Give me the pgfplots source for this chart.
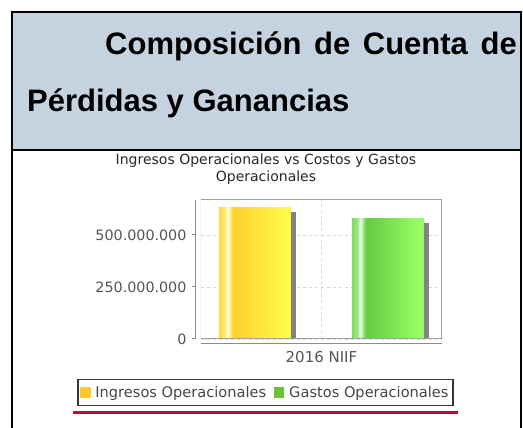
\documentclass[border=0pt]{standalone}
\usepackage{pgfplots}
\pgfplotsset{compat=1.18}
\usepackage{fontspec}
\setmainfont{DejaVu Sans}
\newfontfamily\libsans{Liberation Sans}
\definecolor{hdr}{RGB}{197,211,224}
\definecolor{redline}{RGB}{179,15,53}
\definecolor{axgray}{RGB}{140,140,140}
\definecolor{framegray}{RGB}{160,160,160}
\definecolor{gridgray}{RGB}{215,215,215}
\definecolor{tickgray}{RGB}{85,85,85}
\definecolor{titlegray}{RGB}{40,40,40}
\definecolor{legdraw}{RGB}{55,55,55}
\definecolor{legtext}{RGB}{70,70,70}
\definecolor{shadowgray}{RGB}{130,130,130}
\definecolor{ylegend}{RGB}{255,200,46}
\definecolor{glegend}{RGB}{102,195,58}
% yellow bar stops
\definecolor{y0}{RGB}{255,220,69}
\definecolor{y1}{RGB}{255,232,110}
\definecolor{y2}{RGB}{255,251,230}
\definecolor{y3}{RGB}{255,238,150}
\definecolor{y4}{RGB}{255,213,53}
\definecolor{y5}{RGB}{255,208,48}
\definecolor{y6}{RGB}{255,252,72}
\definecolor{y7}{RGB}{255,245,64}
% green bar stops
\definecolor{g0}{RGB}{126,219,94}
\definecolor{g1}{RGB}{154,232,137}
\definecolor{g2}{RGB}{240,252,235}
\definecolor{g3}{RGB}{165,235,138}
\definecolor{g4}{RGB}{106,207,74}
\definecolor{g5}{RGB}{102,204,68}
\definecolor{g6}{RGB}{153,255,102}
\definecolor{g7}{RGB}{145,245,96}
\pgfdeclarehorizontalshading{yshade}{100bp}{color(0bp)=(y0); color(25bp)=(y0); color(29bp)=(y1); color(30.5bp)=(y2); color(32.5bp)=(y3); color(34.5bp)=(y4); color(36bp)=(y5); color(72.5bp)=(y6); color(75bp)=(y7); color(100bp)=(y7)}
\pgfdeclarehorizontalshading{gshade}{100bp}{color(0bp)=(g0); color(25bp)=(g0); color(29bp)=(g1); color(30.5bp)=(g2); color(32.5bp)=(g3); color(34.5bp)=(g4); color(36bp)=(g5); color(72.5bp)=(g6); color(75bp)=(g7); color(100bp)=(g7)}
\begin{document}
\begin{tikzpicture}
\useasboundingbox[fill=white] (0pt,0pt) rectangle (523pt,428pt);
% header
\fill[hdr] (12.3pt,277.5pt) rectangle (520.5pt,415.7pt);
\begin{scope}
\clip (12.3pt,277.5pt) rectangle (520.5pt,415.7pt);
\node[anchor=base west, inner sep=0pt, font=\libsans\bfseries\fontsize{31}{37}\selectfont] at (105pt,373pt) {Composición\hspace{12.6pt}de\hspace{12.6pt}Cuenta\hspace{12.6pt}de};
\node[anchor=base west, inner sep=0pt, font=\libsans\bfseries\fontsize{31}{37}\selectfont] at (27pt,316pt) {Pérdidas y Ganancias};
\end{scope}
\draw[black, line width=2pt] (12.3pt,-2pt) -- (12.3pt,415.7pt) -- (520.5pt,415.7pt) -- (520.5pt,-2pt);
\draw[black, line width=2pt] (12.3pt,277.5pt) -- (520.5pt,277.5pt);
% chart title
\node[anchor=base, inner sep=0pt, font=\fontsize{14}{17}\selectfont, text=titlegray] at (266pt,263pt) {Ingresos Operacionales vs Costos y Gastos};
\node[anchor=base, inner sep=0pt, font=\fontsize{14}{17}\selectfont, text=titlegray] at (266pt,246pt) {Operacionales};
\begin{axis}[
  at={(201pt,89pt)}, anchor=south west,
  width=241pt, height=139pt, scale only axis,
  xmin=-1, xmax=1, ymin=0, ymax=668300000,
  axis lines*=left, axis x line shift=5pt, axis y line shift=5pt,
  axis line style={draw=axgray, line width=1pt},
  xtick={0}, xticklabels={2016 NIIF},
  ytick={0,250000000,500000000}, yticklabels={0,250.000.000,500.000.000},
  scaled y ticks=false,
  tick align=outside, major tick length=4pt,
  xtick style={draw=none}, ytick style={draw=axgray, line width=1pt},
  xmajorgrids, ymajorgrids,
  grid style={dash pattern=on 3pt off 3pt, draw=gridgray, line width=0.8pt},
  ticklabel style={font=\fontsize{15}{18}\selectfont, text=tickgray},
  yticklabel style={font=\fontsize{14.3}{17}\selectfont, xshift=-2pt},
  legend columns=2,
  legend style={at={(0.2676,-0.385)}, anchor=center, draw=legdraw, line width=1.3pt,
    font=\fontsize{14.6}{17}\selectfont, text=legtext, inner xsep=2.5pt, inner ysep=5pt,
    /tikz/every odd column/.append style={column sep=3pt},
    /tikz/every even column/.append style={column sep=6pt}},
]
\addplot[ybar, bar width=72pt, bar shift=-61.5pt, fill=shadowgray, draw=none, forget plot] coordinates {(0,610600000)};
\addplot[ybar, bar width=72pt, bar shift=-66.5pt, draw=none, shade, shading=yshade,
  legend image code/.code={\path[draw=none, left color=ylegend, right color=ylegend] (0pt,-4.5pt) rectangle (10pt,5pt);}] coordinates {(0,634600000)};
\addlegendentry{Ingresos Operacionales}
\addplot[ybar, bar width=72pt, bar shift=71.5pt, fill=shadowgray, draw=none, forget plot] coordinates {(0,557700000)};
\addplot[ybar, bar width=72pt, bar shift=66.5pt, draw=none, shade, shading=gshade,
  legend image code/.code={\path[draw=none, left color=glegend, right color=glegend] (0pt,-4.5pt) rectangle (10pt,5pt);}] coordinates {(0,581700000)};
\addlegendentry{Gastos Operacionales}
\draw[framegray, line width=1pt] (rel axis cs:0,0) rectangle (rel axis cs:1,1);
\end{axis}
\draw[redline, line width=3pt] (72.7pt,15.5pt) -- (457.7pt,15.5pt);
\end{tikzpicture}
\end{document}
